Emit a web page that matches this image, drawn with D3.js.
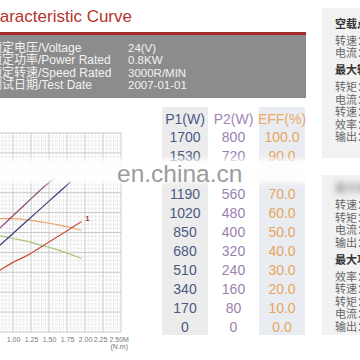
<!DOCTYPE html>
<html><head><meta charset="utf-8">
<script src="https://cdn.jsdelivr.net/npm/d3@7"></script>
<style>
html,body{margin:0;padding:0;background:#fff;}
svg{display:block;}
</style></head>
<body>
<svg id="c" width="360" height="360"></svg>
<script>
// ---------- data ----------
const titleText = "Characteristic Curve";
const infoLabels = ["额定电压/Voltage", "额定功率/Power Rated", "额定转速/Speed Rated", "测试日期/Test Date"];
const infoValues = ["24(V)", "0.8KW", "3000R/MIN", "2007-01-01"];

const torque = [0.6, 0.8, 1.0, 1.2, 1.4, 1.6, 1.8, 1.95];
const seriesP1  = [36.5, 43, 49.5, 56, 62.5, 69, 75.5, null];
const seriesP2  = [44.8, 51.6, 58.4, 65.2, 72, 78, null, null];
const seriesEff = [56, 57, 57, 56.3, 55.2, 54, 52.5, 51];
const seriesN   = [25, 30.5, 35, 38.5, 43, 47.5, 52, 55.5];
const seriesI   = [50, 48.5, 47, 45.5, 43.5, 41.5, 39, 37];

const xTicks = [1.0, 1.25, 1.5, 1.75, 2.0, 2.25, 2.5];
const xTickLabels = ["1.00", "1.25", "1.50", "1.75", "2.00", "2.25", "2.50M"];
const xUnit = "(N.m)";

const tableHeaders = ["P1(W)", "P2(W)", "EFF(%)"];
const p1Vals = [1700, 1530, 1360, 1190, 1020, 850, 680, 510, 340, 170, 0];
const p2Vals = [800, 720, 640, 560, 480, 400, 320, 240, 160, 80, 0];
const effVals = ["100.0", "90.0", "80.0", "70.0", "60.0", "50.0", "40.0", "30.0", "20.0", "10.0", "0.0"];

const panel1 = [["空载点", true], ["转速：2980r/min", false], ["电流：2.5A", false], ["最大输出点", true],
                ["转矩：2.0N.m", false], ["电流：45A", false], ["转速：2500r/min", false], ["效率：75%", false], ["输出：520W", false]];
const panel2 = [["最大效率点", true], ["转速：2700r/min", false], ["转矩：1.2N.m", false], ["电流：30A", false], ["输出：340W", false],
                ["最大功率点", true], ["效率：76%", false], ["转速：2400r/min", false], ["转矩：2.0N.m", false], ["电流：46A", false], ["输出：500W", false]];
const watermark = "en.china.cn";

// ---------- drawing ----------
const svg = d3.select("#c");
const F = "'Liberation Sans', Arial, 'Noto Sans CJK SC', sans-serif";
const defs = svg.append("defs");
defs.append("filter").attr("id","blur2").attr("x","-20%").attr("y","-80%").attr("width","140%").attr("height","260%")
  .append("feGaussianBlur").attr("stdDeviation", 2.5);
defs.append("filter").attr("id","blur3").attr("x","-30%").attr("y","-100%").attr("width","160%").attr("height","300%")
  .append("feGaussianBlur").attr("stdDeviation", 3);

// title
svg.append("text").attr("x", 132).attr("y", 22).attr("text-anchor","end")
  .attr("font-family", F).attr("font-size", 17).attr("fill", "#b5332f").text(titleText);
svg.append("rect").attr("x", -5).attr("y", 32).attr("width", 311).attr("height", 3).attr("fill", "#a32a2a");
svg.append("rect").attr("x", -5).attr("y", 35).attr("width", 311).attr("height", 63).attr("fill", "#8c8c8c");
const infoY = d3.scalePoint().domain(d3.range(infoLabels.length)).range([52, 89]);
svg.selectAll("text.il").data(infoLabels).join("text").attr("class","il")
  .attr("x", -10).attr("y", (d,i)=>infoY(i)).attr("font-family", F).attr("font-size", 12).attr("fill", "#f2f2f2").text(d=>d);
svg.selectAll("text.iv").data(infoValues).join("text").attr("class","iv")
  .attr("x", 128).attr("y", (d,i)=>infoY(i)).attr("font-family", F).attr("font-size", 11.5).attr("fill", "#f2f2f2").text(d=>d);

// chart
const x = d3.scaleLinear().domain([1.0, 2.5]).range([13, 121]);
const y = d3.scaleLinear().domain([0, 100]).range([332, 133]);
const g = svg.append("g");
const gx0 = 0.75;
d3.range(0, 36).map(i => gx0 + i*0.05).forEach((v,i) => {
  const major = i % 5 === 0;
  g.append("line").attr("x1", x(v)).attr("x2", x(v)).attr("y1", y(100)).attr("y2", y(0))
    .attr("stroke", major ? "#bdbdbd" : "#cdcdcd").attr("stroke-width", major ? 0.8 : 0.6)
    .attr("stroke-dasharray", major ? null : "1,1");
});
d3.range(0, 51).forEach(i => {
  const v = i*2, major = i % 5 === 0;
  g.append("line").attr("x1", x(gx0)).attr("x2", x(2.5)).attr("y1", y(v)).attr("y2", y(v))
    .attr("stroke", major ? "#bdbdbd" : "#cdcdcd").attr("stroke-width", major ? 0.8 : 0.6)
    .attr("stroke-dasharray", major ? null : "1,1");
});
const line = d3.line().defined(d => d[1] !== null).x(d => x(d[0])).y(d => y(d[1])).curve(d3.curveMonotoneX);
const series = [[seriesI, "#a8c47c"], [seriesEff, "#e9a56a"], [seriesN, "#c9503e"], [seriesP2, "#8c4a7a"], [seriesP1, "#3b3f7d"]];
series.forEach(([vals, col]) => {
  g.append("path").datum(torque.map((t,i)=>[t, vals[i]])).attr("d", line)
    .attr("fill","none").attr("stroke", col).attr("stroke-width", 1.2);
});
g.append("text").attr("x", x(torque[torque.length-1]) + 4).attr("y", y(seriesN[seriesN.length-1]) - 1)
  .attr("font-family", F).attr("font-size", 7).attr("font-weight","bold").attr("fill", "#a03020").text("1");

const xAxis = d3.axisBottom(x).tickValues(xTicks).tickFormat((d,i)=>xTickLabels[i]).tickSize(0).tickPadding(5);
const ax = svg.append("g").attr("transform", `translate(0,${y(0)})`).call(xAxis);
ax.select(".domain").remove();
const nT = xTicks.length;
ax.selectAll("text").attr("font-family", F).attr("font-size", 7).attr("fill", "#777")
  .attr("text-anchor", (d,i)=> i === nT-1 ? "start" : "middle")
  .attr("dx", (d,i)=> i === nT-1 ? -12 : (i === nT-2 ? -3 : 0));
svg.append("text").attr("x", 128).attr("y", 349).attr("text-anchor","end")
  .attr("font-family", F).attr("font-size", 7).attr("fill", "#777").text(xUnit);

// table
const colX = d3.scalePoint().domain(d3.range(3)).range([185, 282]);
const colW = 46;
svg.append("rect").attr("x", colX(0)-23).attr("y", 107).attr("width", colW).attr("height", 228).attr("fill", "#ececec");
svg.append("rect").attr("x", colX(2)-23).attr("y", 107).attr("width", colW).attr("height", 228).attr("fill", "#e9edf1");
const headCols = ["#4a5a86", "#a584bb", "#eca865"];
const valCols = ["#4b5a80", "#9b7fae", "#e6a55e"];
const rowY = d3.scaleLinear().domain([0, p1Vals.length-1]).range([142, 332]);
svg.selectAll("text.th").data(tableHeaders).join("text").attr("class","th")
  .attr("x", (d,i)=>colX(i)).attr("y", 124).attr("text-anchor","middle")
  .attr("font-family", F).attr("font-size", 14).attr("fill", (d,i)=>headCols[i]).text(d=>d);
const cols = [p1Vals, p2Vals, effVals];
const blurRow = 2;
cols.forEach((vals, c) => {
  svg.selectAll(null).data(vals).join("text")
    .attr("x", colX(c)).attr("y", (d,i)=>rowY(i)).attr("text-anchor","middle")
    .attr("font-family", F).attr("font-size", 14).attr("fill", valCols[c])
    .attr("filter", (d,i)=> i === blurRow ? "url(#blur3)" : null)
    .attr("opacity", (d,i)=> i === blurRow ? 0.5 : 1)
    .text(d=>d);
});

// right panels
svg.append("rect").attr("x", 322).attr("y", 8).attr("width", 45).attr("height", 150).attr("fill", "#f2f2f2");
svg.append("rect").attr("x", 322).attr("y", 175).attr("width", 45).attr("height", 160).attr("fill", "#f2f2f2");
function panel(rows, y0, blurFirst) {
  let yy = y0;
  rows.forEach((r, i) => {
    if (i > 0) yy += (r[1] || rows[i-1][1]) ? 17 : 12.5;
    svg.append("text").attr("x", 335).attr("y", yy)
      .attr("font-family", "'Noto Sans CJK SC', sans-serif").attr("font-size", 11)
      .attr("font-weight", r[1] ? "bold" : "normal").attr("fill", r[1] ? "#333" : "#666")
      .attr("filter", (blurFirst && i === 0) ? "url(#blur3)" : null)
      .attr("opacity", (blurFirst && i === 0) ? 0.5 : 1)
      .text(r[0]);
  });
}
panel(panel1, 27.5, false);
panel(panel2, 192, true);

// watermark blur band
svg.append("rect").attr("x", -10).attr("y", 159).attr("width", 320).attr("height", 24)
  .attr("fill", "#fff").attr("opacity", 0.95).attr("filter", "url(#blur2)");
svg.append("text").attr("x", 117).attr("y", 182).attr("font-family", F).attr("font-size", 24.5)
  .attr("fill", "#9c9c9c").text(watermark);
</script>
</body></html>
